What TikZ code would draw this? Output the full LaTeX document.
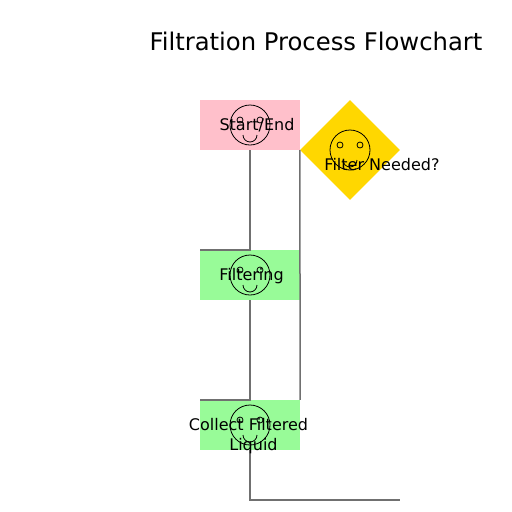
\documentclass[tikz,border=0pt]{standalone}
\usepackage{fontspec}
\setmainfont{DejaVu Sans}
\usetikzlibrary{shapes.geometric}
\definecolor{startpink}{HTML}{FFC0CB}
\definecolor{procgreen}{HTML}{98FB98}
\definecolor{decgold}{HTML}{FFD700}
\definecolor{linkgray}{HTML}{707070}
\tikzset{
  x=1pt,y=-1pt,
  procbox/.style={rectangle,draw=none,inner sep=0pt,minimum width=100pt,minimum height=50pt},
  decbox/.style={diamond,fill=decgold,draw=none,inner sep=0pt,minimum width=100pt,minimum height=100pt},
  link/.style={draw=linkgray,line width=1.5pt,line cap=butt,line join=miter},
  facering/.style={draw=black,line width=0.8pt,fill=none},
  label/.style={inner sep=0pt,anchor=base,font=\fontsize{16pt}{18pt}\selectfont,text=black},
  headline/.style={inner sep=0pt,anchor=base,font=\fontsize{24.3pt}{28pt}\selectfont,text=black},
  pics/face/.style={code={
    \draw[facering] (0,0) circle[radius=20pt];
    \draw[facering] (-10,-5) circle[radius=3pt];
    \draw[facering] (10,-5) circle[radius=3pt];
    \draw[facering] (-7,10) arc[start angle=180,end angle=360,x radius=7pt,y radius=7pt];
  }}
}
\begin{document}
\begin{tikzpicture}
\useasboundingbox (0,0) rectangle (512,512);
\node[procbox,fill=startpink] (start) at (250,125) {};
\node[decbox] (need) at (350,150) {};
\node[procbox,fill=procgreen] (filt) at (250,275) {};
\node[procbox,fill=procgreen] (coll) at (250,425) {};
\coordinate (finish) at (400,500);
\draw[link] (start.south) -- (start.south |- filt.north) -- (filt.north west);
\draw[link] (filt.south) -- (filt.south |- coll.north) -- (coll.north west);
\draw[link] (need.west) -- (coll.north east);
\draw[link] (coll.south) |- (finish);
\pic at (250,125) {face};
\pic at (350,150) {face};
\pic at (250,275) {face};
\pic at (250,425) {face};
\node[headline] (title) at (316,50) {Filtration Process Flowchart};
\node[label] (tstart) at (257,130) {Start/End};
\node[label] (tneed) at (382,170) {Filter Needed?};
\node[label] (tfilt) at (251.5,280) {Filtering};
\node[label] (tcoll) at (248.5,430) {Collect Filtered};
\node[label] (tliq) at (253.5,450) {Liquid};
\end{tikzpicture}
\end{document}
